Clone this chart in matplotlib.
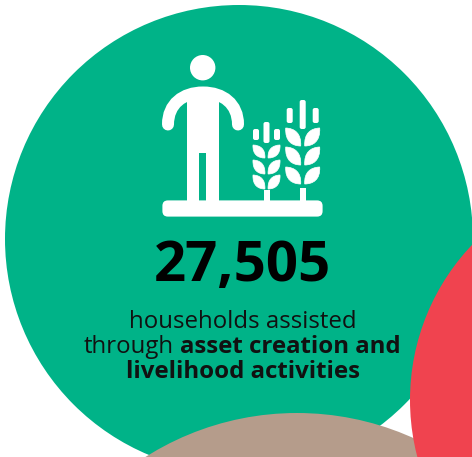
import matplotlib
matplotlib.use('Agg')
import matplotlib.pyplot as plt
from matplotlib.patches import Circle, FancyBboxPatch, PathPatch, Rectangle
from matplotlib.path import Path

headline = '27,505'
line_one = 'households assisted'
line_two_plain = 'through'
line_two_bold = 'asset creation and'
line_three = 'livelihood activities'

GREEN = '#00b388'
RED = '#f0434f'
TAN = '#b59c8b'
WHITE = '#ffffff'
FONT = 'Open Sans'

plt.rcParams['font.family'] = [FONT, 'DejaVu Sans']

fig = plt.figure(figsize=(4.72, 4.57), dpi=100)
ax = fig.add_axes([0, 0, 1, 1])
ax.set_xlim(0, 472)
ax.set_ylim(457, 0)
ax.axis('off')

# background circles
ax.add_patch(Circle((239, 239), 234, color=GREEN, lw=0))
ax.add_patch(Circle((297, 696), 283, color=TAN, lw=0))
ax.add_patch(Circle((635, 400), 225, color=RED, lw=0))


def bar(x, y0, y1, w):
    ax.add_patch(FancyBboxPatch((x - w / 2 + 1, y0 + 1), w - 2, y1 - y0 - 2,
                                boxstyle='round,pad=1,rounding_size=2',
                                fc=WHITE, ec='none'))


def leaf(x0, y0, x1, y1):
    # fat leaf from an outer top tip to an inner bottom tip
    dx = x1 - x0
    h = y1 - y0
    verts = [(x0, y0),
             (x0 - 0.05 * dx, y0 + h * 0.75), (x0 + dx * 0.45, y1), (x1, y1),
             (x1 + 0.05 * dx, y0 + h * 0.3), (x0 + dx * 0.6, y0 + h * 0.02), (x0, y0),
             (x0, y0)]
    codes = [Path.MOVETO, Path.CURVE4, Path.CURVE4, Path.CURVE4,
             Path.CURVE4, Path.CURVE4, Path.CURVE4, Path.CLOSEPOLY]
    ax.add_patch(PathPatch(Path(verts, codes), fc=WHITE, ec=WHITE, lw=0.5))


def wheat(cx, tips, top, sides, gap, half, stem_top):
    bar(cx, top[0], top[1], 6)
    bar(cx - sides[0], sides[1], sides[2], 6)
    bar(cx + sides[0], sides[1], sides[2], 6)
    for y0, y1 in tips:
        leaf(cx - half, y0, cx - gap, y1)
        leaf(cx + half, y0, cx + gap, y1)
    ax.add_patch(Rectangle((cx - 3, stem_top), 6, 204 - stem_top, fc=WHITE, ec='none'))


# person
ax.add_patch(Circle((202.7, 67.7), 12.7, color=WHITE, lw=0))
arm = Path([(168, 124.5), (168, 104), (183, 92.5), (203, 92.5), (223, 92.5), (238, 104), (238, 124.5)],
           [Path.MOVETO, Path.CURVE4, Path.CURVE4, Path.CURVE4, Path.CURVE4, Path.CURVE4, Path.CURVE4])
ax.add_patch(PathPatch(arm, fc='none', ec=WHITE, lw=12 * 0.72, capstyle='round'))
ax.add_patch(Rectangle((186.7, 90), 32, 112, fc=WHITE, ec='none'))
ax.add_patch(Rectangle((199.3, 152.7), 6.7, 50, fc=GREEN, ec='none'))

# ground
ax.add_patch(FancyBboxPatch((168, 206), 149, 5, boxstyle='round,pad=5.6,rounding_size=5.5',
                            fc=WHITE, ec='none'))

# wheat stalks
wheat(266.5, [(145, 158), (160, 174), (175, 189)], (122, 143), (10.5, 129, 140), 1.6, 13.5, 190)
wheat(302.7, [(128, 146), (147, 165), (167, 184)], (100, 129), (13, 108, 123), 2, 17, 188)

# text
ax.text(242.5, 260, headline, fontsize=40.6, fontweight='bold', color='black',
        ha='center', va='center_baseline')
ax.text(242.5, 328, line_one, fontsize=17.3, color='#111111', ha='center', va='baseline')
ax.text(84, 353, line_two_plain, fontsize=17.3, color='#111111', ha='left', va='baseline')
ax.text(180, 353, line_two_bold, fontsize=17.3, fontweight='bold', color='#111111',
        ha='left', va='baseline')
ax.text(242.5, 378, line_three, fontsize=17.3, fontweight='bold', color='#111111',
        ha='center', va='baseline')

fig.savefig('out.png', dpi=100)
